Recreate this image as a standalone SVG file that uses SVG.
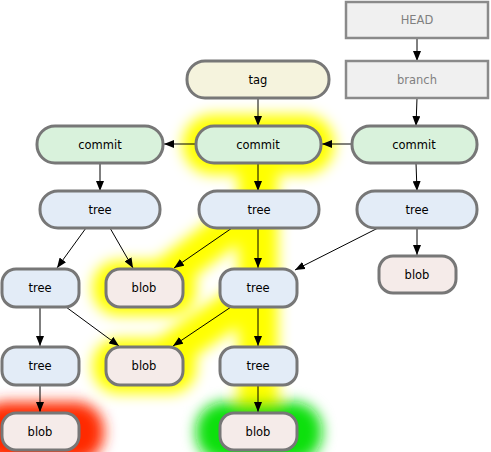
<svg xmlns="http://www.w3.org/2000/svg" width="491" height="452" viewBox="0 0 491 452">
<style>
.n{stroke:#777;stroke-width:3}
.c{fill:#d9f2dc}.t{fill:#e3ecf7}.b{fill:#f5ebe9}.g{fill:#f5f3dd}
.r{fill:#f0f0f0;stroke:#8a8a8a;stroke-width:2.5}
text{font-family:"DejaVu Sans",sans-serif;font-size:11.5px;text-anchor:middle;fill:#000}
.rt{fill:#808080}
.e line{stroke:#000;stroke-width:1;marker-end:url(#a)}
</style>
<defs>
<marker id="a" viewBox="0 0 10 8" refX="10" refY="4" markerWidth="10" markerHeight="8" markerUnits="userSpaceOnUse" orient="auto"><path d="M0,0L10,4L0,8z" fill="#000"/></marker>
<filter id="blur" x="-50%" y="-50%" width="200%" height="200%"><feGaussianBlur stdDeviation="7"/></filter>
</defs>
<rect width="491" height="452" fill="#fff"/>
<g id="glow" filter="url(#blur)">
<g fill="#ffff00" stroke="#ffff00" stroke-linecap="round">
<rect x="183" y="115" width="151" height="59" rx="29"/>
<rect x="93" y="261" width="103" height="54" rx="25"/>
<rect x="93" y="339" width="103" height="54" rx="25"/>
<line x1="258" y1="163" x2="258" y2="400" stroke-width="40"/>
<line x1="240" y1="220" x2="150" y2="288" stroke-width="36"/>
<line x1="245" y1="300" x2="150" y2="366" stroke-width="36"/>
</g>
<rect x="-22" y="402" width="126" height="60" rx="28" fill="#ff2a00"/>
<rect x="196" y="402" width="126" height="60" rx="28" fill="#10e010"/>
</g>
<g id="connectors" class="e">
<line x1="417" y1="38" x2="417" y2="61"/>
<line x1="258" y1="98" x2="258" y2="126"/>
<line x1="417" y1="98" x2="416" y2="126"/>
<line x1="352" y1="144" x2="322" y2="144"/>
<line x1="196" y1="144" x2="164" y2="144"/>
<line x1="100" y1="163" x2="100" y2="191"/>
<line x1="258" y1="163" x2="258" y2="191"/>
<line x1="416" y1="163" x2="417" y2="191"/>
<line x1="86" y1="228" x2="57" y2="268"/>
<line x1="110" y1="228" x2="133" y2="268"/>
<line x1="232" y1="228" x2="174" y2="268"/>
<line x1="258" y1="228" x2="258" y2="268"/>
<line x1="380" y1="227" x2="295" y2="270"/>
<line x1="417" y1="228" x2="417" y2="255"/>
<line x1="40" y1="307" x2="40" y2="346"/>
<line x1="66" y1="307" x2="119" y2="346"/>
<line x1="231" y1="307" x2="173" y2="346"/>
<line x1="258" y1="307" x2="258" y2="346"/>
<line x1="40" y1="385" x2="40" y2="412"/>
<line x1="258" y1="385" x2="258" y2="412"/>
</g>
<g id="head"><rect class="r" x="346" y="2" width="142" height="36"/><text class="rt" x="417" y="24">HEAD</text></g>
<g id="branch"><rect class="r" x="346" y="61" width="142" height="37"/><text class="rt" x="417" y="84">branch</text></g>
<g id="tag"><rect class="n g" x="187" y="61" width="142" height="37" rx="18"/><text x="258" y="84">tag</text></g>
<g id="commit1"><rect class="n c" x="37" y="126" width="126" height="37" rx="18"/><text x="100" y="149">commit</text></g>
<g id="commit2"><rect class="n c" x="196" y="126" width="125" height="37" rx="18"/><text x="258" y="149">commit</text></g>
<g id="commit3"><rect class="n c" x="352" y="126" width="125" height="37" rx="18"/><text x="414" y="149">commit</text></g>
<g id="tree1"><rect class="n t" x="40" y="191" width="120" height="37" rx="18"/><text x="100" y="214">tree</text></g>
<g id="tree2"><rect class="n t" x="199" y="191" width="120" height="37" rx="18"/><text x="259" y="214">tree</text></g>
<g id="tree3"><rect class="n t" x="357" y="191" width="120" height="37" rx="18"/><text x="417" y="214">tree</text></g>
<g id="tree4"><rect class="n t" x="2" y="269" width="77" height="38" rx="14"/><text x="40" y="292">tree</text></g>
<g id="blob1"><rect class="n b" x="106" y="269" width="77" height="38" rx="14"/><text x="144" y="292">blob</text></g>
<g id="tree5"><rect class="n t" x="220" y="269" width="77" height="38" rx="14"/><text x="258" y="292">tree</text></g>
<g id="blob2"><rect class="n b" x="379" y="256" width="77" height="37" rx="14"/><text x="417" y="279">blob</text></g>
<g id="tree6"><rect class="n t" x="2" y="347" width="77" height="38" rx="14"/><text x="40" y="370">tree</text></g>
<g id="blob3"><rect class="n b" x="106" y="347" width="77" height="38" rx="14"/><text x="144" y="370">blob</text></g>
<g id="tree7"><rect class="n t" x="220" y="347" width="77" height="38" rx="14"/><text x="258" y="370">tree</text></g>
<g id="blob4"><rect class="n b" x="2" y="413" width="77" height="37" rx="14"/><text x="40" y="436">blob</text></g>
<g id="blob5"><rect class="n b" x="220" y="413" width="77" height="37" rx="14"/><text x="258" y="436">blob</text></g>
</svg>
